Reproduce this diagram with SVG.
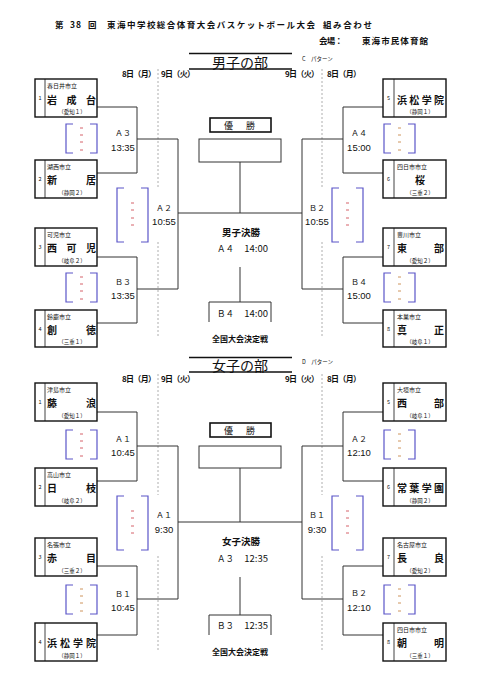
<svg xmlns="http://www.w3.org/2000/svg" width="481" height="680" viewBox="0 0 481 680">
<style>
text{font-family:"Noto Sans CJK JP","Liberation Sans",sans-serif;fill:#111}
.b{font-weight:bold}
.box{fill:#fff;stroke:#111;stroke-width:1.4}
.div{stroke:#111;stroke-width:0.8}
.num{font-size:5.5px;text-anchor:middle}
.city{font-size:6px}
.name{font-size:10px;font-weight:bold}
.pref{font-size:5.5px;text-anchor:middle}
.con{fill:none;stroke:#333;stroke-width:1}
.dash{fill:none;stroke:#999;stroke-width:0.8;stroke-dasharray:2 2}
.br{fill:none;stroke:#5a55c8;stroke-width:1.2}
.rd{stroke:#d0505a;stroke-width:0.9}
.od{stroke:#c8884a;stroke-width:0.9}
.lab{font-size:8px;text-anchor:middle}
.tm{font-size:9.5px;text-anchor:middle;font-family:"Liberation Sans",sans-serif}
.hd{font-size:8px;font-weight:bold}
.ctr{text-anchor:middle}
</style>
<defs>
<g id="brS"><path class="br" d="M7,0 H0 V29 H7 M24,0 H31 V29 H24"/></g>
<g id="rdS"><path class="rd" d="M14,4 h3 M14,11 h3 M14,18 h3 M14,26 h3"/></g>
<g id="odS"><path class="od" d="M14,4 h3 M14,11 h3 M14,18 h3 M14,26 h3"/></g>
<g id="brL"><path class="br" d="M7,0 H0 V54 H7 M24,0 H31 V54 H24"/><path class="rd" d="M14,15 h3 M14,22 h3 M14,30 h3 M14,37 h3"/></g>
</defs>

<g id="header">
<text class="b" x="55" y="28" font-size="8.5">第</text>
<text class="b" x="70" y="28" font-size="8.5" textLength="11">38</text>
<text class="b" x="88" y="28" font-size="8.5">回</text>
<text class="b" x="107" y="28" font-size="8.5" textLength="208" lengthAdjust="spacing">東海中学校総合体育大会バスケットボール大会</text>
<text class="b" x="323" y="28" font-size="8.5" textLength="49" lengthAdjust="spacing">組み合わせ</text>
<text class="b" x="319" y="44" font-size="8.5" textLength="24" lengthAdjust="spacing">会場：</text>
<text class="b" x="362" y="44" font-size="8.5" textLength="66" lengthAdjust="spacing">東海市民体育館</text>
</g>

<!-- ================= BOYS ================= -->
<g id="boys-title">
<line x1="189" y1="53.5" x2="292" y2="53.5" stroke="#111" stroke-width="1.5"/>
<line x1="189" y1="69" x2="292" y2="69" stroke="#111" stroke-width="1.5"/>
<text x="240" y="67.5" font-size="14" class="ctr" textLength="56" lengthAdjust="spacing">男子の部</text>
<text x="302" y="61" font-size="5.5">C　パターン</text>
<text class="hd" x="122" y="77" textLength="34" lengthAdjust="spacing">8日（月）</text>
<text class="hd" x="161" y="77" textLength="34" lengthAdjust="spacing">9日（火）</text>
<text class="hd" x="285" y="77" textLength="34" lengthAdjust="spacing">9日（火）</text>
<text class="hd" x="327" y="77" textLength="34" lengthAdjust="spacing">8日（月）</text>
</g>

<g id="boys-connectors">
<path class="dash" d="M158,69 V187 M158,242 V337 M322,69 V187 M322,242 V337"/>
<path class="con" d="M97,107 H137 V173 H97 M137,139 H178 M97,257 H137 V323 H97 M137,289 H178 M178,139 V289 M178,213 H302 M302,139 V289 M343,139 H302 M383,107 H343 V173 H383 M383,257 H343 V323 H383 M343,289 H302 M240,162 V213 M240,267 V302 M209,322 V302 H271 V322"/>
</g>

<g id="boys-brackets">
<use href="#brS" x="66" y="124"/><use href="#rdS" x="66" y="124"/>
<use href="#brS" x="66" y="273"/><use href="#rdS" x="66" y="273"/>
<use href="#brL" x="117" y="188"/>
<use href="#brS" x="384" y="124"/><use href="#odS" x="384" y="124"/>
<use href="#brS" x="384" y="273"/><use href="#odS" x="384" y="273"/>
<use href="#brL" x="332" y="188"/>
</g>

<g id="boys-labels">
<text class="lab" x="123" y="136">Ａ３</text><text class="tm" x="123" y="150.5">13:35</text>
<text class="lab" x="123" y="284.5">Ｂ３</text><text class="tm" x="123" y="298.5">13:35</text>
<text class="lab" x="164" y="210.5">Ａ２</text><text class="tm" x="164" y="224.5">10:55</text>
<text class="lab" x="359" y="136">Ａ４</text><text class="tm" x="359" y="150.5">15:00</text>
<text class="lab" x="359" y="284.5">Ｂ４</text><text class="tm" x="359" y="298.5">15:00</text>
<text class="lab" x="317" y="210.5">Ｂ２</text><text class="tm" x="317" y="224.5">10:55</text>
</g>

<g id="boys-final">
<rect x="210" y="118" width="61" height="14" fill="#fff" stroke="#111" stroke-width="1.6"/>
<text x="224" y="128.5" font-size="9">優</text><text x="246" y="128.5" font-size="9">勝</text>
<rect x="199" y="139" width="82" height="23" fill="#fff" stroke="#333" stroke-width="1"/>
<text class="b ctr" x="241" y="235.5" font-size="9.5">男子決勝</text>
<text x="217" y="251.5" font-size="8.5">Ａ４</text><text x="268" y="251.5" font-size="9.5" text-anchor="end" font-family="Liberation Sans">14:00</text>
<text x="217" y="316.5" font-size="8.5">Ｂ４</text><text x="268" y="316.5" font-size="9.5" text-anchor="end" font-family="Liberation Sans">14:00</text>
<text class="b ctr" x="240" y="342" font-size="8">全国大会決定戦</text>
</g>

<g id="boys-team1"><rect class="box" x="35" y="79" width="62" height="38"/><line class="div" x1="45" y1="79" x2="45" y2="117"/>
<text class="num" x="40" y="100">1</text><text class="city" x="47" y="88">春日井市立</text>
<text class="name" x="47 66.5 86" y="104">岩成台</text><text class="pref" x="72" y="114">（愛知１）</text></g>
<g id="boys-team2"><rect class="box" x="35" y="160" width="62" height="38"/><line class="div" x1="45" y1="160" x2="45" y2="198"/>
<text class="num" x="40" y="181">2</text><text class="city" x="47" y="169">湖西市立</text>
<text class="name" x="47 86" y="184">新居</text><text class="pref" x="72" y="195">（静岡２）</text></g>
<g id="boys-team3"><rect class="box" x="35" y="228" width="62" height="38"/><line class="div" x1="45" y1="228" x2="45" y2="266"/>
<text class="num" x="40" y="249">3</text><text class="city" x="47" y="237">可児市立</text>
<text class="name" x="47 66.5 86" y="252">西可児</text><text class="pref" x="72" y="263">（岐阜２）</text></g>
<g id="boys-team4"><rect class="box" x="35" y="310" width="62" height="37"/><line class="div" x1="45" y1="310" x2="45" y2="347"/>
<text class="num" x="40" y="331">4</text><text class="city" x="47" y="319">鈴鹿市立</text>
<text class="name" x="47 86" y="334">創徳</text><text class="pref" x="72" y="344">（三重１）</text></g>
<g id="boys-team5"><rect class="box" x="383" y="79" width="63" height="38"/><line class="div" x1="394" y1="79" x2="394" y2="117"/>
<text class="num" x="388.5" y="100">5</text>
<text class="name" x="397 409.3 421.7 434" y="104">浜松学院</text><text class="pref" x="420" y="114">（静岡１）</text></g>
<g id="boys-team6"><rect class="box" x="383" y="160" width="63" height="38"/><line class="div" x1="394" y1="160" x2="394" y2="198"/>
<text class="num" x="388.5" y="181">6</text><text class="city" x="397" y="169">四日市市立</text>
<text class="name" x="420" y="184" text-anchor="middle">桜</text><text class="pref" x="420" y="195">（三重２）</text></g>
<g id="boys-team7"><rect class="box" x="383" y="228" width="63" height="38"/><line class="div" x1="394" y1="228" x2="394" y2="266"/>
<text class="num" x="388.5" y="249">7</text><text class="city" x="397" y="237">豊川市立</text>
<text class="name" x="397 434" y="252">東部</text><text class="pref" x="420" y="263">（愛知２）</text></g>
<g id="boys-team8"><rect class="box" x="383" y="310" width="63" height="37"/><line class="div" x1="394" y1="310" x2="394" y2="347"/>
<text class="num" x="388.5" y="331">8</text><text class="city" x="397" y="319">本巣市立</text>
<text class="name" x="397 434" y="334">真正</text><text class="pref" x="420" y="344">（岐阜１）</text></g>

<!-- ================= GIRLS ================= -->
<g id="girls-title">
<line x1="189" y1="357.5" x2="292" y2="357.5" stroke="#111" stroke-width="1.5"/>
<line x1="189" y1="372" x2="292" y2="372" stroke="#111" stroke-width="1.5"/>
<text x="240" y="371" font-size="14" class="ctr" textLength="56" lengthAdjust="spacing">女子の部</text>
<text x="302" y="364" font-size="5.5">D　パターン</text>
<text class="hd" x="122" y="381.5" textLength="34" lengthAdjust="spacing">8日（月）</text>
<text class="hd" x="161" y="381.5" textLength="34" lengthAdjust="spacing">9日（火）</text>
<text class="hd" x="285" y="381.5" textLength="34" lengthAdjust="spacing">9日（火）</text>
<text class="hd" x="327" y="381.5" textLength="34" lengthAdjust="spacing">8日（月）</text>
</g>

<g id="girls-connectors">
<path class="dash" d="M158,374 V495 M158,556 V650 M322,374 V495 M322,556 V650"/>
<path class="con" d="M97,412 H137 V481 H97 M137,446 H178 M97,566 H137 V635 H97 M137,599 H178 M178,446 V599 M178,522 H302 M302,446 V599 M343,446 H302 M383,412 H343 V481 H383 M383,566 H343 V635 H383 M343,599 H302 M240,468 V522 M240,577 V615 M209,635 V615 H271 V635"/>
</g>

<g id="girls-brackets">
<use href="#brS" x="66" y="430"/><use href="#rdS" x="66" y="430"/>
<use href="#brS" x="66" y="585"/><use href="#odS" x="66" y="585"/>
<use href="#brL" x="117" y="496"/>
<use href="#brS" x="384" y="430"/><use href="#odS" x="384" y="430"/>
<use href="#brS" x="384" y="585"/><use href="#odS" x="384" y="585"/>
<use href="#brL" x="332" y="496"/>
</g>

<g id="girls-labels">
<text class="lab" x="123" y="441.5">Ａ１</text><text class="tm" x="123" y="455.5">10:45</text>
<text class="lab" x="123" y="596.5">Ｂ１</text><text class="tm" x="123" y="610.5">10:45</text>
<text class="lab" x="164" y="517.5">Ａ１</text><text class="tm" x="164" y="532.5">9:30</text>
<text class="lab" x="359" y="441.5">Ａ２</text><text class="tm" x="359" y="455.5">12:10</text>
<text class="lab" x="359" y="595.5">Ｂ２</text><text class="tm" x="359" y="610.5">12:10</text>
<text class="lab" x="317" y="517.5">Ｂ１</text><text class="tm" x="317" y="532.5">9:30</text>
</g>

<g id="girls-final">
<rect x="210" y="423" width="61" height="14" fill="#fff" stroke="#111" stroke-width="1.6"/>
<text x="224" y="433.5" font-size="9">優</text><text x="246" y="433.5" font-size="9">勝</text>
<rect x="199" y="446" width="82" height="22" fill="#fff" stroke="#333" stroke-width="1"/>
<text class="b ctr" x="241" y="544.5" font-size="9.5">女子決勝</text>
<text x="217" y="561.5" font-size="8.5">Ａ３</text><text x="268" y="561.5" font-size="9.5" text-anchor="end" font-family="Liberation Sans">12:35</text>
<text x="217" y="628.5" font-size="8.5">Ｂ３</text><text x="268" y="628.5" font-size="9.5" text-anchor="end" font-family="Liberation Sans">12:35</text>
<text class="b ctr" x="240" y="655" font-size="8">全国大会決定戦</text>
</g>

<g id="girls-team1"><rect class="box" x="35" y="383" width="62" height="38"/><line class="div" x1="45" y1="383" x2="45" y2="421"/>
<text class="num" x="40" y="404">1</text><text class="city" x="47" y="392">津島市立</text>
<text class="name" x="47 86" y="407">藤浪</text><text class="pref" x="72" y="418">（愛知１）</text></g>
<g id="girls-team2"><rect class="box" x="35" y="468" width="62" height="38"/><line class="div" x1="45" y1="468" x2="45" y2="506"/>
<text class="num" x="40" y="489">2</text><text class="city" x="47" y="477">高山市立</text>
<text class="name" x="47 86" y="492">日枝</text><text class="pref" x="72" y="503">（岐阜２）</text></g>
<g id="girls-team3"><rect class="box" x="35" y="538" width="62" height="38"/><line class="div" x1="45" y1="538" x2="45" y2="576"/>
<text class="num" x="40" y="559">3</text><text class="city" x="47" y="547">名張市立</text>
<text class="name" x="47 86" y="562">赤目</text><text class="pref" x="72" y="573">（三重２）</text></g>
<g id="girls-team4"><rect class="box" x="35" y="623" width="62" height="38"/><line class="div" x1="45" y1="623" x2="45" y2="661"/>
<text class="num" x="40" y="644">4</text>
<text class="name" x="47 60 73 86" y="647">浜松学院</text><text class="pref" x="72" y="658">（静岡１）</text></g>
<g id="girls-team5"><rect class="box" x="383" y="383" width="63" height="38"/><line class="div" x1="394" y1="383" x2="394" y2="421"/>
<text class="num" x="388.5" y="404">5</text><text class="city" x="397" y="392">大垣市立</text>
<text class="name" x="397 434" y="407">西部</text><text class="pref" x="420" y="418">（岐阜１）</text></g>
<g id="girls-team6"><rect class="box" x="383" y="468" width="63" height="38"/><line class="div" x1="394" y1="468" x2="394" y2="506"/>
<text class="num" x="388.5" y="489">6</text>
<text class="name" x="397 409.3 421.7 434" y="492">常葉学園</text><text class="pref" x="420" y="503">（静岡２）</text></g>
<g id="girls-team7"><rect class="box" x="383" y="538" width="63" height="38"/><line class="div" x1="394" y1="538" x2="394" y2="576"/>
<text class="num" x="388.5" y="559">7</text><text class="city" x="397" y="547">名古屋市立</text>
<text class="name" x="397 434" y="562">長良</text><text class="pref" x="420" y="573">（愛知２）</text></g>
<g id="girls-team8"><rect class="box" x="383" y="623" width="63" height="38"/><line class="div" x1="394" y1="623" x2="394" y2="661"/>
<text class="num" x="388.5" y="644">8</text><text class="city" x="397" y="632">四日市市立</text>
<text class="name" x="397 434" y="647">朝明</text><text class="pref" x="420" y="658">（三重１）</text></g>
</svg>
